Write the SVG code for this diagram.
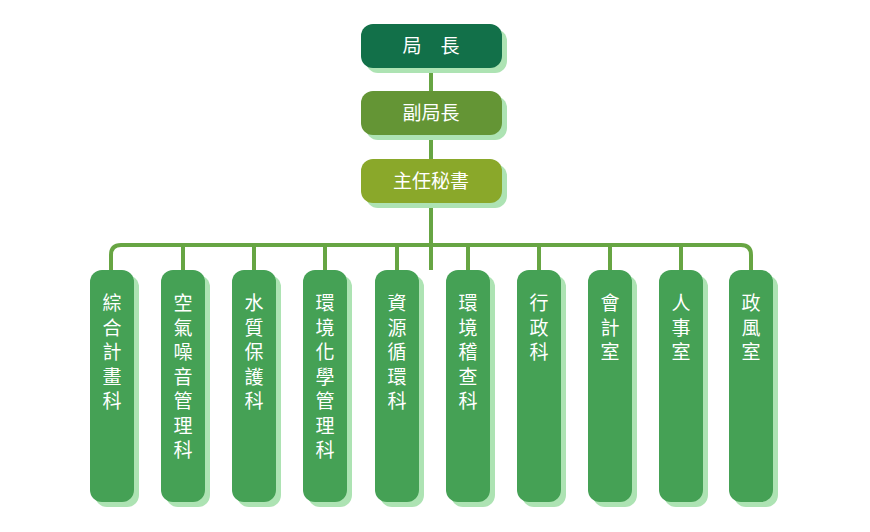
<svg xmlns="http://www.w3.org/2000/svg" width="870" height="532" viewBox="0 0 870 532">
<style>
.sh{fill:#ade3b3}
.col{fill:#45a155}
.t{font-family:"Noto Sans CJK TC","Noto Sans CJK SC",sans-serif;font-size:19px;fill:#fff;text-anchor:middle}
.ln{stroke:#67a543;stroke-width:4;fill:none}
</style>
<rect width="870" height="532" fill="#fff"/>
<g id="connectors">
<path class="ln" d="M431 68V270M111 270V255Q111 245 121 245H741Q751 245 751 255V270"/>
<path class="ln" d="M183 245V270M254 245V270M325 245V270M397 245V270M468 245V270M539 245V270M610 245V270M681 245V270"/>
</g>
<g id="n1"><rect class="sh" x="366" y="29" width="141" height="44" rx="12"/><rect x="361" y="24" width="141" height="44" rx="12" fill="#127049"/><text class="t" x="431" y="53">局　長</text></g>
<g id="n2"><rect class="sh" x="366" y="96" width="141" height="44" rx="12"/><rect x="361" y="91" width="141" height="44" rx="12" fill="#649535"/><text class="t" x="431" y="120">副局長</text></g>
<g id="n3"><rect class="sh" x="366" y="164" width="141" height="44" rx="12"/><rect x="361" y="159" width="141" height="44" rx="12" fill="#8aa82a"/><text class="t" x="431" y="188">主任秘書</text></g>
<g id="c1"><rect class="sh" x="95" y="275" width="44" height="232" rx="12"/><rect class="col" x="90" y="270" width="44" height="232" rx="12"/><text class="t" x="112"><tspan x="112" y="310">綜</tspan><tspan x="112" dy="24.5">合</tspan><tspan x="112" dy="24.5">計</tspan><tspan x="112" dy="24.5">畫</tspan><tspan x="112" dy="24.5">科</tspan></text></g>
<g id="c2"><rect class="sh" x="166" y="275" width="44" height="232" rx="12"/><rect class="col" x="161" y="270" width="44" height="232" rx="12"/><text class="t"><tspan x="183" y="310">空</tspan><tspan x="183" dy="24.5">氣</tspan><tspan x="183" dy="24.5">噪</tspan><tspan x="183" dy="24.5">音</tspan><tspan x="183" dy="24.5">管</tspan><tspan x="183" dy="24.5">理</tspan><tspan x="183" dy="24.5">科</tspan></text></g>
<g id="c3"><rect class="sh" x="237" y="275" width="44" height="232" rx="12"/><rect class="col" x="232" y="270" width="44" height="232" rx="12"/><text class="t"><tspan x="254" y="310">水</tspan><tspan x="254" dy="24.5">質</tspan><tspan x="254" dy="24.5">保</tspan><tspan x="254" dy="24.5">護</tspan><tspan x="254" dy="24.5">科</tspan></text></g>
<g id="c4"><rect class="sh" x="308" y="275" width="44" height="232" rx="12"/><rect class="col" x="303" y="270" width="44" height="232" rx="12"/><text class="t"><tspan x="325" y="310">環</tspan><tspan x="325" dy="24.5">境</tspan><tspan x="325" dy="24.5">化</tspan><tspan x="325" dy="24.5">學</tspan><tspan x="325" dy="24.5">管</tspan><tspan x="325" dy="24.5">理</tspan><tspan x="325" dy="24.5">科</tspan></text></g>
<g id="c5"><rect class="sh" x="380" y="275" width="44" height="232" rx="12"/><rect class="col" x="375" y="270" width="44" height="232" rx="12"/><text class="t"><tspan x="397" y="310">資</tspan><tspan x="397" dy="24.5">源</tspan><tspan x="397" dy="24.5">循</tspan><tspan x="397" dy="24.5">環</tspan><tspan x="397" dy="24.5">科</tspan></text></g>
<g id="c6"><rect class="sh" x="451" y="275" width="44" height="232" rx="12"/><rect class="col" x="446" y="270" width="44" height="232" rx="12"/><text class="t"><tspan x="468" y="310">環</tspan><tspan x="468" dy="24.5">境</tspan><tspan x="468" dy="24.5">稽</tspan><tspan x="468" dy="24.5">查</tspan><tspan x="468" dy="24.5">科</tspan></text></g>
<g id="c7"><rect class="sh" x="522" y="275" width="44" height="232" rx="12"/><rect class="col" x="517" y="270" width="44" height="232" rx="12"/><text class="t"><tspan x="539" y="310">行</tspan><tspan x="539" dy="24.5">政</tspan><tspan x="539" dy="24.5">科</tspan></text></g>
<g id="c8"><rect class="sh" x="593" y="275" width="44" height="232" rx="12"/><rect class="col" x="588" y="270" width="44" height="232" rx="12"/><text class="t"><tspan x="610" y="310">會</tspan><tspan x="610" dy="24.5">計</tspan><tspan x="610" dy="24.5">室</tspan></text></g>
<g id="c9"><rect class="sh" x="664" y="275" width="44" height="232" rx="12"/><rect class="col" x="659" y="270" width="44" height="232" rx="12"/><text class="t"><tspan x="681" y="310">人</tspan><tspan x="681" dy="24.5">事</tspan><tspan x="681" dy="24.5">室</tspan></text></g>
<g id="c10"><rect class="sh" x="734" y="275" width="44" height="232" rx="12"/><rect class="col" x="729" y="270" width="44" height="232" rx="12"/><text class="t"><tspan x="751" y="310">政</tspan><tspan x="751" dy="24.5">風</tspan><tspan x="751" dy="24.5">室</tspan></text></g>
</svg>
